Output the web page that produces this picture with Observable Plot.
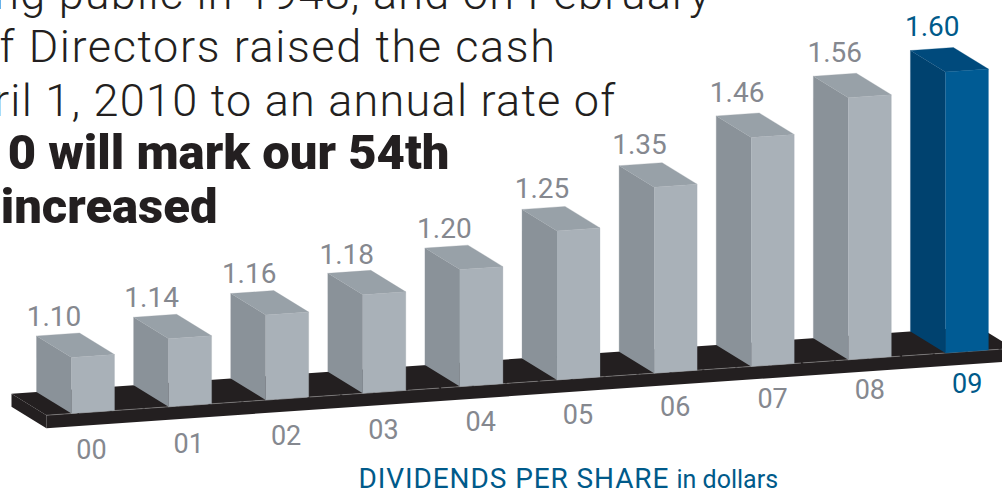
<!DOCTYPE html>
<html>
<head>
<meta charset="utf-8">
<script src="https://cdn.jsdelivr.net/npm/d3@7"></script>
<script src="https://cdn.jsdelivr.net/npm/@observablehq/plot@0.6"></script>
<style>html,body{margin:0;padding:0;background:#fff;overflow:hidden}svg{display:block}</style>
</head>
<body>
<div id="chart"></div>
<script>
const years = ["00","01","02","03","04","05","06","07","08","09"];
const dividends = [1.10,1.14,1.16,1.18,1.20,1.25,1.35,1.46,1.56,1.60];
const labels = ["1.10","1.14","1.16","1.18","1.20","1.25","1.35","1.46","1.56","1.60"];
const paragraph = ["ng public in 1948, and on February","f Directors raised the cash","ril 1, 2010 to an annual rate of"];
const emphasis = ["0 will mark our 54th","increased"];

// The printed bars are not drawn to a strictly linear scale: this polylinear
// rise (scale range) reproduces the heights used in the picture.
const rise = [56,68,85,98.5,117,149,186,229,262,281];
const heightOf = d3.scaleLinear().domain(dividends).range(rise);
const labelGap = [10,10,11,9,10,11,12,13.5,14,15];
const yearLift = [38,44,52,58,66,73,81,89,98,104];

// Oblique view: slot units across, y units upward, each slot climbs, depth shifts back-left.
const W = 0.443, DX = -0.36, DY = 21.5, CLIMB = 6.72, BASE = 75;
const ground = u => BASE + CLIMB * u;
const GREY = {side:"#8a9299", top:"#98a1a8", front:"#a9b1b8"};
const BLUE = {side:"#00426f", top:"#004a7c", front:"#005b94"};

const faces = [];
dividends.forEach((v,i) => {
  const h = heightOf(v), g0 = ground(i), g1 = ground(i+W), c = i === 9 ? BLUE : GREY;
  const poly = (name, pts) => pts.forEach(p => faces.push({id:i+name, x:p[0], y:p[1], fill:c[name]}));
  poly("side", [[i,g0],[i,g0+h],[i+DX,g0+h+DY],[i+DX,g0+DY]]);
  poly("top", [[i,g0+h],[i+W,g1+h],[i+W+DX,g1+h+DY],[i+DX,g0+h+DY]]);
  poly("front", [[i,g0],[i+W,g1],[i+W,g1+h],[i,g0+h]]);
});

const U0 = -0.258, U1 = 9.70;
const platformTop = [[U0,ground(U0)],[U1,ground(U1)],[U1+DX,ground(U1)+DY],[U0+DX,ground(U0)+DY]]
  .map(p => ({x:p[0], y:p[1], id:"top"}));
const T = 13;
const platformFront = [[U0,ground(U0)],[U1,ground(U1)],[U1,ground(U1)-T],[U0,ground(U0)-T]]
  .map(p => ({x:p[0], y:p[1], id:"front"}));
const platformSide = [[U0,ground(U0)],[U0,ground(U0)-T],[U0+DX,ground(U0)+DY-T],[U0+DX,ground(U0)+DY]]
  .map(p => ({x:p[0], y:p[1], id:"side"}));

const valueRows = dividends.map((v,i) => ({
  x: -0.18 + 1.005*i,
  y: ground(i) + heightOf(v) + DY + labelGap[i],
  label: labels[i], color: i === 9 ? "#005a8a" : "#85888f"
}));
const yearRows = years.map((t,i) => ({
  x: i*1.002 + 0.206, y: yearLift[i], label: t, color: i === 9 ? "#005a8a" : "#85888f"
}));

// Plot has no letter-spacing option for text, so it is set when the mark renders.
const spaced = ls => function(index, scales, values, dims, ctx, next) {
  const g = next(index, scales, values, dims, ctx);
  g.style.letterSpacing = ls + "px";
  return g;
};
const para = (text, dx, dy, opts) => Plot.text([text], {
  frameAnchor:"top-left", textAnchor:"end", lineAnchor:"bottom", dx, dy,
  fill:"#231f20", ...opts
});

const chart = Plot.plot({
  width:1002, height:488, margin:0,
  style:{fontFamily:"Roboto", background:"#fff"},
  x:{domain:[-0.731,9.588], range:[0,1002], axis:null},
  y:{domain:[0,488], range:[488,0], axis:null},
  marks:[
    Plot.line(platformFront,{x:"x",y:"y",z:"id",fill:"#231f20",stroke:"none"}),
    Plot.line(platformSide,{x:"x",y:"y",z:"id",fill:"#231f20",stroke:"none"}),
    Plot.line(platformTop,{x:"x",y:"y",z:"id",fill:"#231f20",stroke:"none"}),
    Plot.line(platformFront.slice(0,2),{x:"x",y:"y",stroke:"#8f8d8d",strokeWidth:0.6,strokeDasharray:"30 3"}),
    Plot.line(faces,{x:"x",y:"y",z:"id",fill:"fill",stroke:"fill",strokeWidth:0.3}),
    Plot.text(valueRows,{x:"x",y:"y",text:"label",fill:"color",fontSize:28,textAnchor:"middle",lineAnchor:"bottom"}),
    Plot.text(yearRows,{x:"x",y:"y",text:"label",fill:"color",fontSize:27,textAnchor:"middle",lineAnchor:"middle"}),
    para(paragraph[0],711,8,{fontSize:45,fontWeight:300,render:spaced(1.25)}),
    para(paragraph[1],556,61,{fontSize:45,fontWeight:300,render:spaced(1.6)}),
    para(paragraph[2],616,115,{fontSize:45,fontWeight:300,render:spaced(1.25)}),
    para(emphasis[0],449,168,{fontSize:49,fontWeight:900}),
    para(emphasis[1],217,222,{fontSize:49,fontWeight:900}),
    Plot.text(["DIVIDENDS PER SHARE"],{frameAnchor:"top-left",textAnchor:"start",lineAnchor:"bottom",dx:358,dy:487,fill:"#005a8a",fontSize:28,render:spaced(0.9)}),
    Plot.text(["in dollars"],{frameAnchor:"top-left",textAnchor:"start",lineAnchor:"bottom",dx:676,dy:487,fill:"#005a8a",fontSize:25})
  ]
});
document.getElementById("chart").append(chart);
</script>
</body>
</html>
